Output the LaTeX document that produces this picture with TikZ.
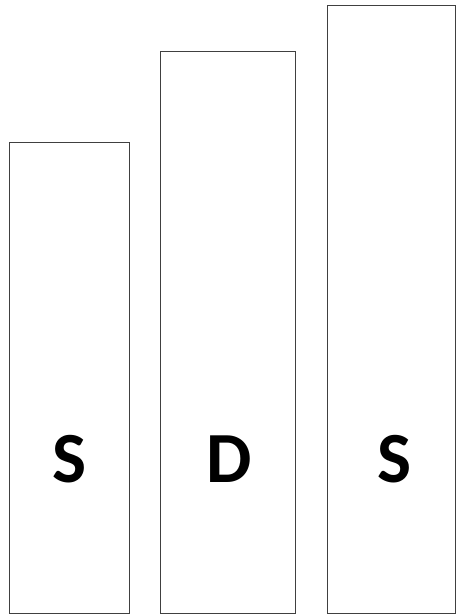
\documentclass[tikz,border=0pt]{standalone}
\usepackage{fontspec}
\setmainfont{Carlito}
\begin{document}
\begin{tikzpicture}[x=1pt,y=1pt,
  bar/.style={draw=black!75,line width=0.9pt,fill=white},
  lbl/.style={font=\bfseries\fontsize{72}{72}\selectfont,anchor=base,inner sep=0pt}]
\useasboundingbox (0,0) rectangle (456,615);
\draw[bar] (9.5,2) rectangle (129,472.5);
\draw[bar] (160,2) rectangle (295.5,564);
\draw[bar] (327,2) rectangle (455.5,609.5);
\node[lbl] (s1) at (69.5,132) {S};
\node[lbl] (d) at (229,132) {D};
\node[lbl] (s2) at (395,132) {S};
\end{tikzpicture}
\end{document}
